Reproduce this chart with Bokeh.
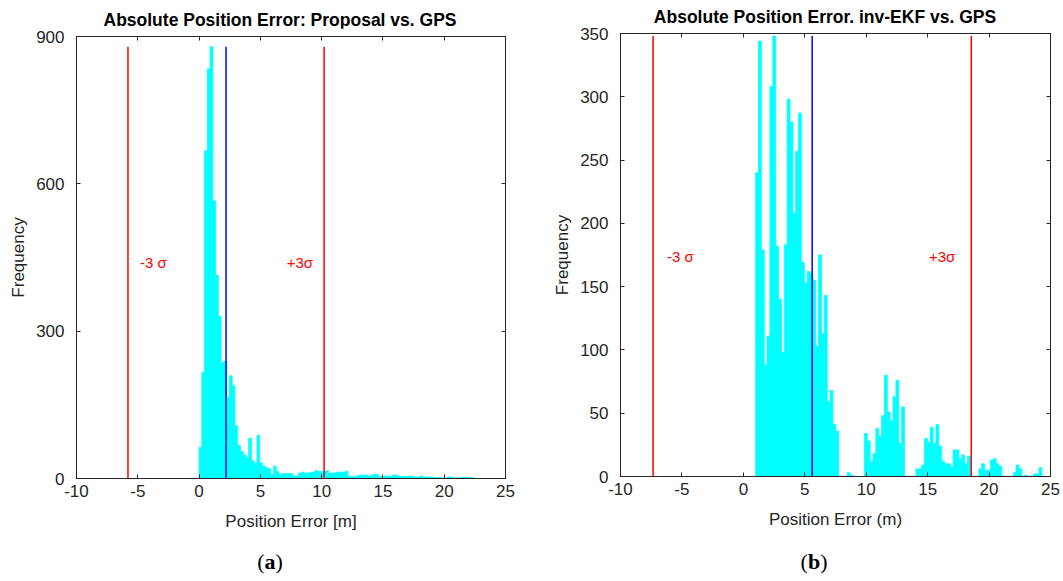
from bokeh.plotting import figure
from bokeh.models import Range1d, LinearAxis, FixedTicker, Div
from bokeh.layouts import row, column
from bokeh.embed import file_html
from bokeh.resources import INLINE
from bokeh.core.properties import value

# ---------------- data ----------------
x_ticks = [-10, -5, 0, 5, 10, 15, 20, 25]
x_tick_labels = ["-10", "-5", "0", "5", "10", "15", "20", "25"]

a_title = "Absolute Position Error: Proposal vs. GPS"
a_xlabel = "Position Error [m]"
a_caption = "a"
a_bin_start = 0.0
a_bin_width = 0.225
a_counts = [63, 216, 667, 834, 879, 565, 414, 330, 236, 238,
            165, 209, 189, 107, 67, 55, 48, 43, 82, 36,
            31, 88, 32, 25, 22, 20, 8, 25, 14, 8,
            10, 10, 10, 10, 5, 5, 11, 13, 11, 11,
            12, 13, 16, 14, 14, 14, 16, 11, 11, 11,
            13, 13, 13, 15, 5, 4, 4, 5, 7, 7,
            7, 5, 6, 8, 8, 4, 4, 5, 5, 4,
            7, 7, 5, 4, 4, 4, 5, 4, 2, 3,
            5, 3, 3, 3, 3, 2, 2, 2, 0, 1,
            3, 3, 1, 1, 1, 2, 2, 2, 2, 1]
a_mean = 2.2
a_minus3 = -5.8
a_plus3 = 10.2
a_yticks = [0, 300, 600, 900]
a_ymax = 900

b_title = "Absolute Position Error. inv-EKF vs. GPS"
b_xlabel = "Position Error (m)"
b_caption = "b"
b_bin_start = 1.0
b_bin_width = 0.233
b_counts = [240, 344, 179, 88, 111, 308, 348, 182, 140, 98,
            183, 298, 280, 208, 257, 287, 169, 153, 162, 160,
            155, 103, 175, 113, 143, 59, 68, 41, 36, 0,
            0, 0, 3, 1, 0, 0, 0, 0, 34, 28,
            12, 18, 38, 32, 48, 80, 51, 44, 63, 76,
            26, 55, 0, 0, 0, 0, 6, 6, 9, 30,
            27, 39, 26, 41, 24, 12, 10, 10, 8, 21,
            21, 14, 17, 10, 16, 0, 0, 0, 6, 10,
            5, 5, 13, 14, 10, 8, 0, 0, 0, 0,
            3, 9, 6, 0, 1, 0, 0, 2, 2, 7]
b_mean = 5.6
b_minus3 = -7.35
b_plus3 = 18.55
b_yticks = [0, 50, 100, 150, 200, 250, 300, 350]
b_ymax = 350

FONT = "Liberation Sans"
AX = "#262626"


def style_axis(ax, labels=True):
    ax.major_tick_in = 4
    ax.major_tick_out = 0
    ax.minor_tick_in = 0
    ax.minor_tick_out = 0
    ax.axis_line_color = AX
    ax.major_tick_line_color = AX
    ax.major_label_text_font = FONT
    ax.major_label_text_color = AX
    ax.axis_label_text_font = FONT
    ax.axis_label_text_font_style = "normal"
    ax.axis_label_text_color = AX
    ax.axis_label_text_font_size = "17px"
    if labels:
        ax.major_label_text_font_size = "17px"
    else:
        ax.major_label_text_font_size = "0px"
        ax.major_label_text_color = None
        ax.major_label_standoff = 0


def make_panel(title, xlabel, caption, bin_start, bin_width, counts, mean, m3, p3,
               yticks, ymax, width, mb_left, mb_right, title_h, title_pad, title_pl,
               frame_top, frame_bottom, cap_pl, off_minus, off_plus, ylab_standoff):
    fig_h = 545 - title_h
    p = figure(width=width, height=fig_h, output_backend="svg", toolbar_location=None,
               x_range=Range1d(-10, 25), y_range=Range1d(0, ymax),
               min_border_left=mb_left, min_border_right=mb_right,
               min_border_top=frame_top - title_h,
               min_border_bottom=545 - frame_bottom)
    p.xgrid.visible = False
    p.ygrid.visible = False
    p.outline_line_color = AX
    p.background_fill_color = "white"
    p.border_fill_color = "white"

    centers = [bin_start + bin_width * (i + 0.5) for i in range(len(counts))]
    p.vbar(x=centers, top=counts, width=bin_width, bottom=0,
           fill_color="#00FFFF", line_color="#00FFFF", line_width=0.8)

    top = max(counts)
    p.segment(x0=[m3, p3], y0=[0, 0], x1=[m3, p3], y1=[top, top],
              line_color="#FF0000", line_width=1.5)
    p.segment(x0=[mean], y0=[0], x1=[mean], y1=[top],
              line_color="#0000FF", line_width=1.5)

    p.text(x=[m3], y=[top / 2], text=["-3 σ"], x_offset=off_minus,
           text_align="left", text_baseline="middle", text_color="#FF0000",
           text_font=value(FONT), text_font_size="15px")
    p.text(x=[p3], y=[top / 2], text=["+3σ"], x_offset=off_plus,
           text_align="right", text_baseline="middle", text_color="#FF0000",
           text_font=value(FONT), text_font_size="15px")

    xa = p.xaxis[0]
    xa.ticker = FixedTicker(ticks=x_ticks)
    xa.major_label_overrides = dict(zip(x_ticks, x_tick_labels))
    xa.axis_label = xlabel
    style_axis(xa)
    xa.major_label_standoff = 6
    xa.axis_label_standoff = 12

    ya = p.yaxis[0]
    ya.ticker = FixedTicker(ticks=yticks)
    ya.major_label_overrides = {t: str(t) for t in yticks}
    ya.axis_label = "Frequency"
    style_axis(ya)
    ya.major_label_standoff = 12
    ya.axis_label_standoff = ylab_standoff

    tax = LinearAxis(ticker=FixedTicker(ticks=x_ticks))
    style_axis(tax, labels=False)
    p.add_layout(tax, "above")
    rax = LinearAxis(ticker=FixedTicker(ticks=yticks))
    style_axis(rax, labels=False)
    p.add_layout(rax, "right")

    tdiv = Div(text=(f'<div style="box-sizing:border-box;width:{width}px;'
                     f'padding-left:{title_pl}px;padding-top:{title_pad}px;'
                     f'text-align:center;white-space:nowrap;font-family:\'{FONT}\';'
                     f'font-weight:bold;font-size:17.5px;line-height:20px;color:black;">'
                     f'{title}</div>'),
               width=width, height=title_h, margin=0)
    cdiv = Div(text=(f'<div style="box-sizing:border-box;width:{width}px;'
                     f'padding-left:{cap_pl}px;padding-top:4px;text-align:center;'
                     f'font-family:\'Liberation Serif\';font-size:22px;line-height:26px;'
                     f'color:black;">(<b>{caption}</b>)</div>'),
               width=width, height=35, margin=0)
    return column(tdiv, p, cdiv, spacing=0)


pa = make_panel(a_title, a_xlabel, a_caption, a_bin_start, a_bin_width, a_counts,
                a_mean, a_minus3, a_plus3, a_yticks, a_ymax,
                width=535, mb_left=76, mb_right=30, title_h=28, title_pad=10, title_pl=25,
                frame_top=36, frame_bottom=478, cap_pl=5,
                off_minus=12, off_plus=-11, ylab_standoff=5)
pb = make_panel(b_title, b_xlabel, b_caption, b_bin_start, b_bin_width, b_counts,
                b_mean, b_minus3, b_plus3, b_yticks, b_ymax,
                width=527, mb_left=85, mb_right=12, title_h=25, title_pad=7, title_pl=53,
                frame_top=33, frame_bottom=476, cap_pl=31,
                off_minus=14, off_plus=-16, ylab_standoff=5)

layout = row(pa, pb, spacing=0)
open("out.html", "w").write(file_html(layout, INLINE))
